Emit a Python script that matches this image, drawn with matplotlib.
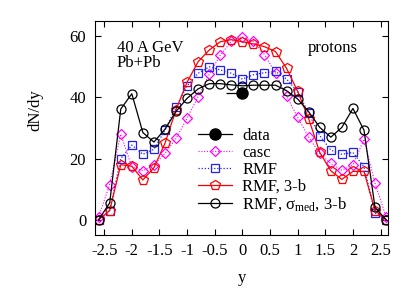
"""Proton rapidity distribution, 40 A GeV Pb+Pb: data vs. casc / RMF variants."""
import matplotlib
matplotlib.use("Agg")
import matplotlib.pyplot as plt
from matplotlib.lines import Line2D

# rapidity bins (centres)
y_bins = [-2.6, -2.4, -2.2, -2.0, -1.8, -1.6, -1.4, -1.2, -1.0, -0.8, -0.6, -0.4, -0.2,
          0.0, 0.2, 0.4, 0.6, 0.8, 1.0, 1.2, 1.4, 1.6, 1.8, 2.0, 2.2, 2.4, 2.6]

casc = [1.0, 11.5, 28.0, 17.3, 16.0, 18.0, 21.7, 26.6, 33.2, 40.3, 47.6, 53.8, 58.3,
        59.8, 58.3, 54.0, 47.9, 40.4, 33.5, 27.0, 21.7, 18.4, 16.2, 17.9, 26.3, 11.9, 0.9]
rmf = [0.0, 3.0, 20.0, 24.4, 21.4, 23.0, 29.3, 36.8, 43.8, 47.9, 50.0, 49.0, 47.9,
       46.0, 47.4, 48.1, 48.5, 46.0, 41.9, 34.8, 27.5, 22.8, 21.4, 22.0, 17.3, 2.2, 0.0]
rmf_3b = [0.0, 3.0, 18.0, 17.5, 13.0, 17.0, 25.0, 36.0, 45.0, 51.7, 55.5, 58.2, 58.9,
          58.2, 57.5, 56.6, 55.0, 49.5, 42.0, 33.0, 22.0, 16.0, 13.2, 15.8, 15.8, 3.0, 0.0]
rmf_sig_3b = [0.0, 5.5, 36.2, 41.2, 28.5, 25.4, 29.6, 35.4, 39.7, 42.8, 44.5, 44.5, 44.1,
              43.8, 44.0, 44.0, 44.0, 42.2, 39.5, 35.3, 30.2, 27.0, 30.2, 36.4, 29.3, 4.0, 0.0]

data_y = [0.0]
data_val = [41.4]
data_xerr_lo = [0.3]
data_xerr_hi = [0.0]

xticks = [-2.5, -2, -1.5, -1, -0.5, 0, 0.5, 1, 1.5, 2, 2.5]
xtick_labels = ["-2.5", "-2", "-1.5", "-1", "-0.5", "0", "0.5", "1", "1.5", "2", "2.5"]
yticks = [0, 20, 40, 60]

SERIF = "Liberation Serif"
FS = 12

plt.rcParams["font.family"] = [SERIF, "DejaVu Serif"]
plt.rcParams["mathtext.fontset"] = "custom"
plt.rcParams["mathtext.rm"] = SERIF
plt.rcParams["mathtext.it"] = SERIF + ":italic"
plt.rcParams["axes.unicode_minus"] = False

W, H = 415, 291
fig = plt.figure(figsize=(W / 100, H / 100), dpi=100)
ax = fig.add_axes([94.5 / W, 1 - 235 / H, (388.3 - 94.5) / W, (235 - 21) / H])

MAG = "#ff00ff"
BLUE = "#2020ff"
RED = "#ff0000"

l_casc, = ax.plot(y_bins, casc, color=MAG, lw=0.8, ls=(0, (1, 1.5)), marker="D", ms=5,
                  mfc="none", mec=MAG, mew=0.9, label="casc")
l_rmf, = ax.plot(y_bins, rmf, color=BLUE, lw=0.9, ls=(0, (1, 1.5)), marker="s", ms=6,
                 mfc="none", mec=BLUE, mew=0.9, label="RMF")
l_3b, = ax.plot(y_bins, rmf_3b, color=RED, lw=0.9, ls="-", marker="p", ms=7,
                mfc="none", mec=RED, mew=0.9, label="RMF, 3-b")
l_sig, = ax.plot(y_bins, rmf_sig_3b, color="black", lw=0.9, ls="-", marker="o", ms=6.5,
                 mfc="none", mec="black", mew=0.9,
                 label=r"RMF, σ$_{\rm med}$, 3-b")
ax.errorbar(data_y, data_val, xerr=[data_xerr_lo, data_xerr_hi], fmt="o", color="black",
            ms=8, elinewidth=0.9, capsize=0, zorder=5)

data_handle = Line2D([], [], color="black", lw=0.9, marker="o", ms=8)

ax.set_xlim(-2.675, 2.64)
ax.set_ylim(-5, 65)
ax.set_xticks(xticks)
ax.set_xticklabels(xtick_labels)
ax.set_yticks(yticks)
ax.tick_params(direction="in", top=True, right=True, length=4, width=0.8,
               labelsize=FS, pad=6)
for sp in ax.spines.values():
    sp.set_linewidth(0.8)

fig.text(35 / W, 1 - 110 / H, "dN/dy", rotation=90, ha="center", va="center", fontsize=FS)
fig.text(242 / W, 1 - 282 / H, "y", ha="center", va="baseline", fontsize=FS)

ax.text(-2.27, 55.0, "40 A GeV", ha="left", va="baseline", fontsize=FS)
ax.text(-2.27, 50.0, "Pb+Pb", ha="left", va="baseline", fontsize=FS)
ax.text(1.18, 55.0, "protons", ha="left", va="baseline", fontsize=FS)

ax.legend([data_handle, l_casc, l_rmf, l_3b, l_sig],
          ["data", "casc", "RMF", "RMF, 3-b", r"RMF, σ$_{\rm med}$, 3-b"],
          loc="upper left", bbox_to_anchor=(198.3 / W, 1 - 128 / H),
          bbox_transform=fig.transFigure, frameon=False, fontsize=FS,
          handlelength=2.05, handletextpad=0.6, labelspacing=0.05,
          borderpad=0, borderaxespad=0, numpoints=1)

fig.savefig("out.png", dpi=100)
